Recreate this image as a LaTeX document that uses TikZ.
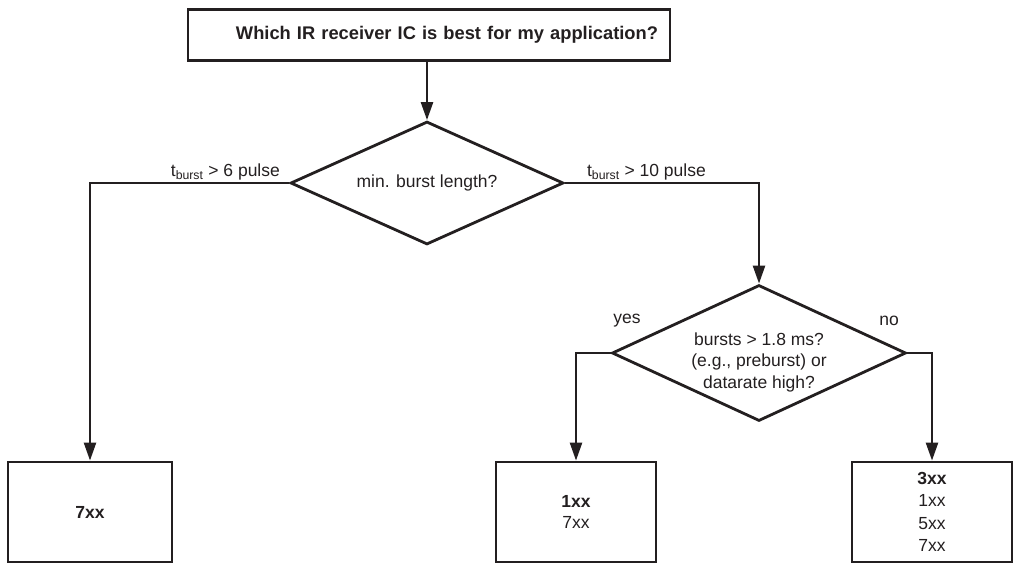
\documentclass[tikz,border=0pt]{standalone}
\usepackage{fontspec}
\setmainfont{Liberation Sans}
\usetikzlibrary{shapes.geometric,arrows.meta}
\definecolor{ink}{HTML}{231F20}
\begin{document}
\begin{tikzpicture}[x=1pt,y=-1pt,
  every node/.style={text=ink},
  boxnode/.style={draw=ink,line width=2.8pt,rectangle,inner sep=0pt},
  decision/.style={draw=ink,line width=2.8pt,diamond,shape aspect=2.2,inner sep=0pt,align=center,font=\fontsize{17.5}{21.5}\selectfont},
  dtext/.style={align=center,font=\fontsize{17.5}{21.5}\selectfont,inner sep=0pt},
  conn/.style={draw=ink,line width=2.4pt},
  arr/.style={conn,-{Triangle[length=18pt,width=12pt]}},
  lbl/.style={font=\fontsize{17.5}{20}\selectfont,inner sep=2pt}
]
\useasboundingbox (0,0) rectangle (1014,563);
\node[boxnode,minimum width=482pt,minimum height=51pt,text width=458pt,align=right,inner xsep=12pt,font=\bfseries\fontsize{18.3}{21}\selectfont] (top) at (429,35) {Which IR receiver IC is best for my application?};
\node[decision,minimum width=273pt,minimum height=123pt] (d1) at (427,183) {min. burst length?};
\node[decision,minimum width=294pt,minimum height=136pt,
  label={[dtext,yshift=-9pt]center:{bursts > 1.8 ms?\\(e.g., preburst) or\\datarate high?}}] (d2) at (759,353) {};
\node[boxnode,minimum width=164pt,minimum height=100pt,font=\bfseries\fontsize{17.5}{20}\selectfont] (b7) at (90,512) {7xx};
\node[boxnode,minimum width=160pt,minimum height=100pt,align=center,font=\fontsize{17.5}{21}\selectfont] (b1) at (576,512) {\textbf{1xx}\\7xx};
\node[boxnode,minimum width=160pt,minimum height=100pt,align=center,font=\fontsize{17.5}{22.3}\selectfont] (b3) at (932,512) {\textbf{3xx}\\1xx\\5xx\\7xx};
\draw[arr] (top.south -| d1.north) -- (d1.north);
\draw[arr] (d1.west) -| node[lbl,above,pos=0.16] {t\textsubscript{burst} > 6 pulse} (b7.north);
\draw[arr] (d1.east) -| node[lbl,above,pos=0.21] {t\textsubscript{burst} > 10 pulse} (d2.north);
\draw[arr] (d2.west) -| (b1.north);
\draw[arr] (d2.east) -| (b3.north);
\node[lbl] (yes) at (627,321) {yes};
\node[lbl] (no) at (889,321) {no};
\end{tikzpicture}
\end{document}
